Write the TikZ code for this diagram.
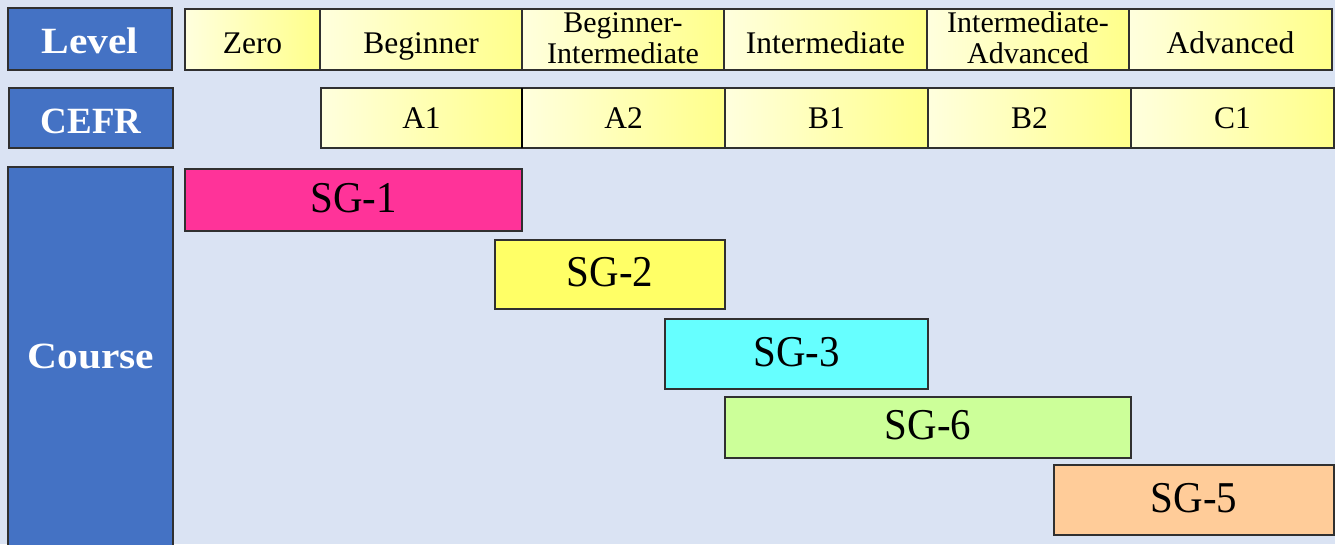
\documentclass[tikz,border=0pt]{standalone}
\usepackage{fontspec}
\setmainfont{Liberation Serif}
\newfontfamily\hdrfont[FakeStretch=1.12]{Liberation Serif}
\newfontfamily\sgfont[FakeStretch=0.93]{Liberation Serif}
\definecolor{bgc}{HTML}{DAE3F3}
\definecolor{hdr}{HTML}{4472C4}
\definecolor{pale}{HTML}{FFFFDE}
\definecolor{yel}{HTML}{FFFF8A}
\definecolor{sgone}{HTML}{FF3399}
\definecolor{sgtwo}{HTML}{FFFF66}
\definecolor{sgthree}{HTML}{66FFFF}
\definecolor{sgsix}{HTML}{CCFF99}
\definecolor{sgfive}{HTML}{FFCC99}
\definecolor{edge}{HTML}{303030}
\tikzset{
  box/.style={draw=edge, line width=1.2pt, rectangle, anchor=north west, inner sep=0pt, outer sep=0pt, align=center},
  hdrbox/.style={box, fill=hdr, text=white, font=\hdrfont\fontsize{37}{40}\selectfont\bfseries},
  cell/.style={box, left color=pale, right color=yel, font=\fontsize{31.5}{31}\selectfont},
  lvcell/.style={cell, text height=27pt, text depth=0pt},
  twocell/.style={cell, font=\fontsize{30}{31}\selectfont, text height=47pt, text depth=0pt},
  cfcell/.style={cell, text height=20pt, text depth=0pt},
  sg/.style={box, font=\sgfont\fontsize{44}{46}\selectfont, text height=27pt, text depth=3pt},
}
\begin{document}
\begin{tikzpicture}[x=1pt,y=-1pt]
\useasboundingbox (0,0) rectangle (1335,544);
\clip (0,0) rectangle (1335,544);
\fill[bgc] (0,0) rectangle (1335,544);
% header boxes
\node[hdrbox, minimum width=164pt, minimum height=62pt, text height=29pt, text depth=0pt] (level) at (8,8) {Level};
\node[hdrbox, font=\fontsize{37}{40}\selectfont\bfseries, minimum width=164pt, minimum height=60pt, text height=30pt, text depth=0pt] (cefr) at (9,88) {CEFR};
\node[hdrbox, minimum width=165pt, minimum height=390pt] (course) at (8,167) {};
\node[anchor=base, inner sep=0pt, text=white, font=\hdrfont\fontsize{37}{40}\selectfont\bfseries] (coursetxt) at (91,368) {Course};
% level row
\node[lvcell, minimum width=135pt, minimum height=61pt] (zero) at (185,9) {Zero};
\node[lvcell, minimum width=202pt, minimum height=61pt] (beg) at (320,9) {Beginner};
\node[twocell, minimum width=202pt, minimum height=61pt] (begint) at (522,9) {Beginner-\\Intermediate};
\node[lvcell, minimum width=203pt, minimum height=61pt] (inter) at (724,9) {Intermediate};
\node[twocell, minimum width=202pt, minimum height=61pt] (intadv) at (927,9) {Intermediate-\\Advanced};
\node[lvcell, minimum width=203pt, minimum height=61pt] (adv) at (1129,9) {Advanced};
% CEFR row
\node[cfcell, minimum width=201pt, minimum height=60pt] (a1) at (321,88) {A1};
\node[cfcell, minimum width=203pt, minimum height=60pt] (a2) at (522,88) {A2};
\node[cfcell, minimum width=203pt, minimum height=60pt] (b1) at (725,88) {B1};
\node[cfcell, minimum width=203pt, minimum height=60pt] (b2) at (928,88) {B2};
\node[cfcell, minimum width=203pt, minimum height=60pt] (c1) at (1131,88) {C1};
\draw[black, line width=2pt] (a2.north west) -- (a2.south west);
% courses
\node[sg, fill=sgone, minimum width=337pt, minimum height=62pt] (sg1) at (185,169) {SG-1};
\node[sg, fill=sgtwo, minimum width=230pt, minimum height=69pt] (sg2) at (495,240) {SG-2};
\node[sg, fill=sgthree, minimum width=263pt, minimum height=70pt] (sg3) at (665,319) {SG-3};
\node[sg, fill=sgsix, minimum width=406pt, minimum height=61pt] (sg6) at (725,397) {SG-6};
\node[sg, fill=sgfive, minimum width=280pt, minimum height=70pt] (sg5) at (1054,465) {SG-5};
\end{tikzpicture}
\end{document}
